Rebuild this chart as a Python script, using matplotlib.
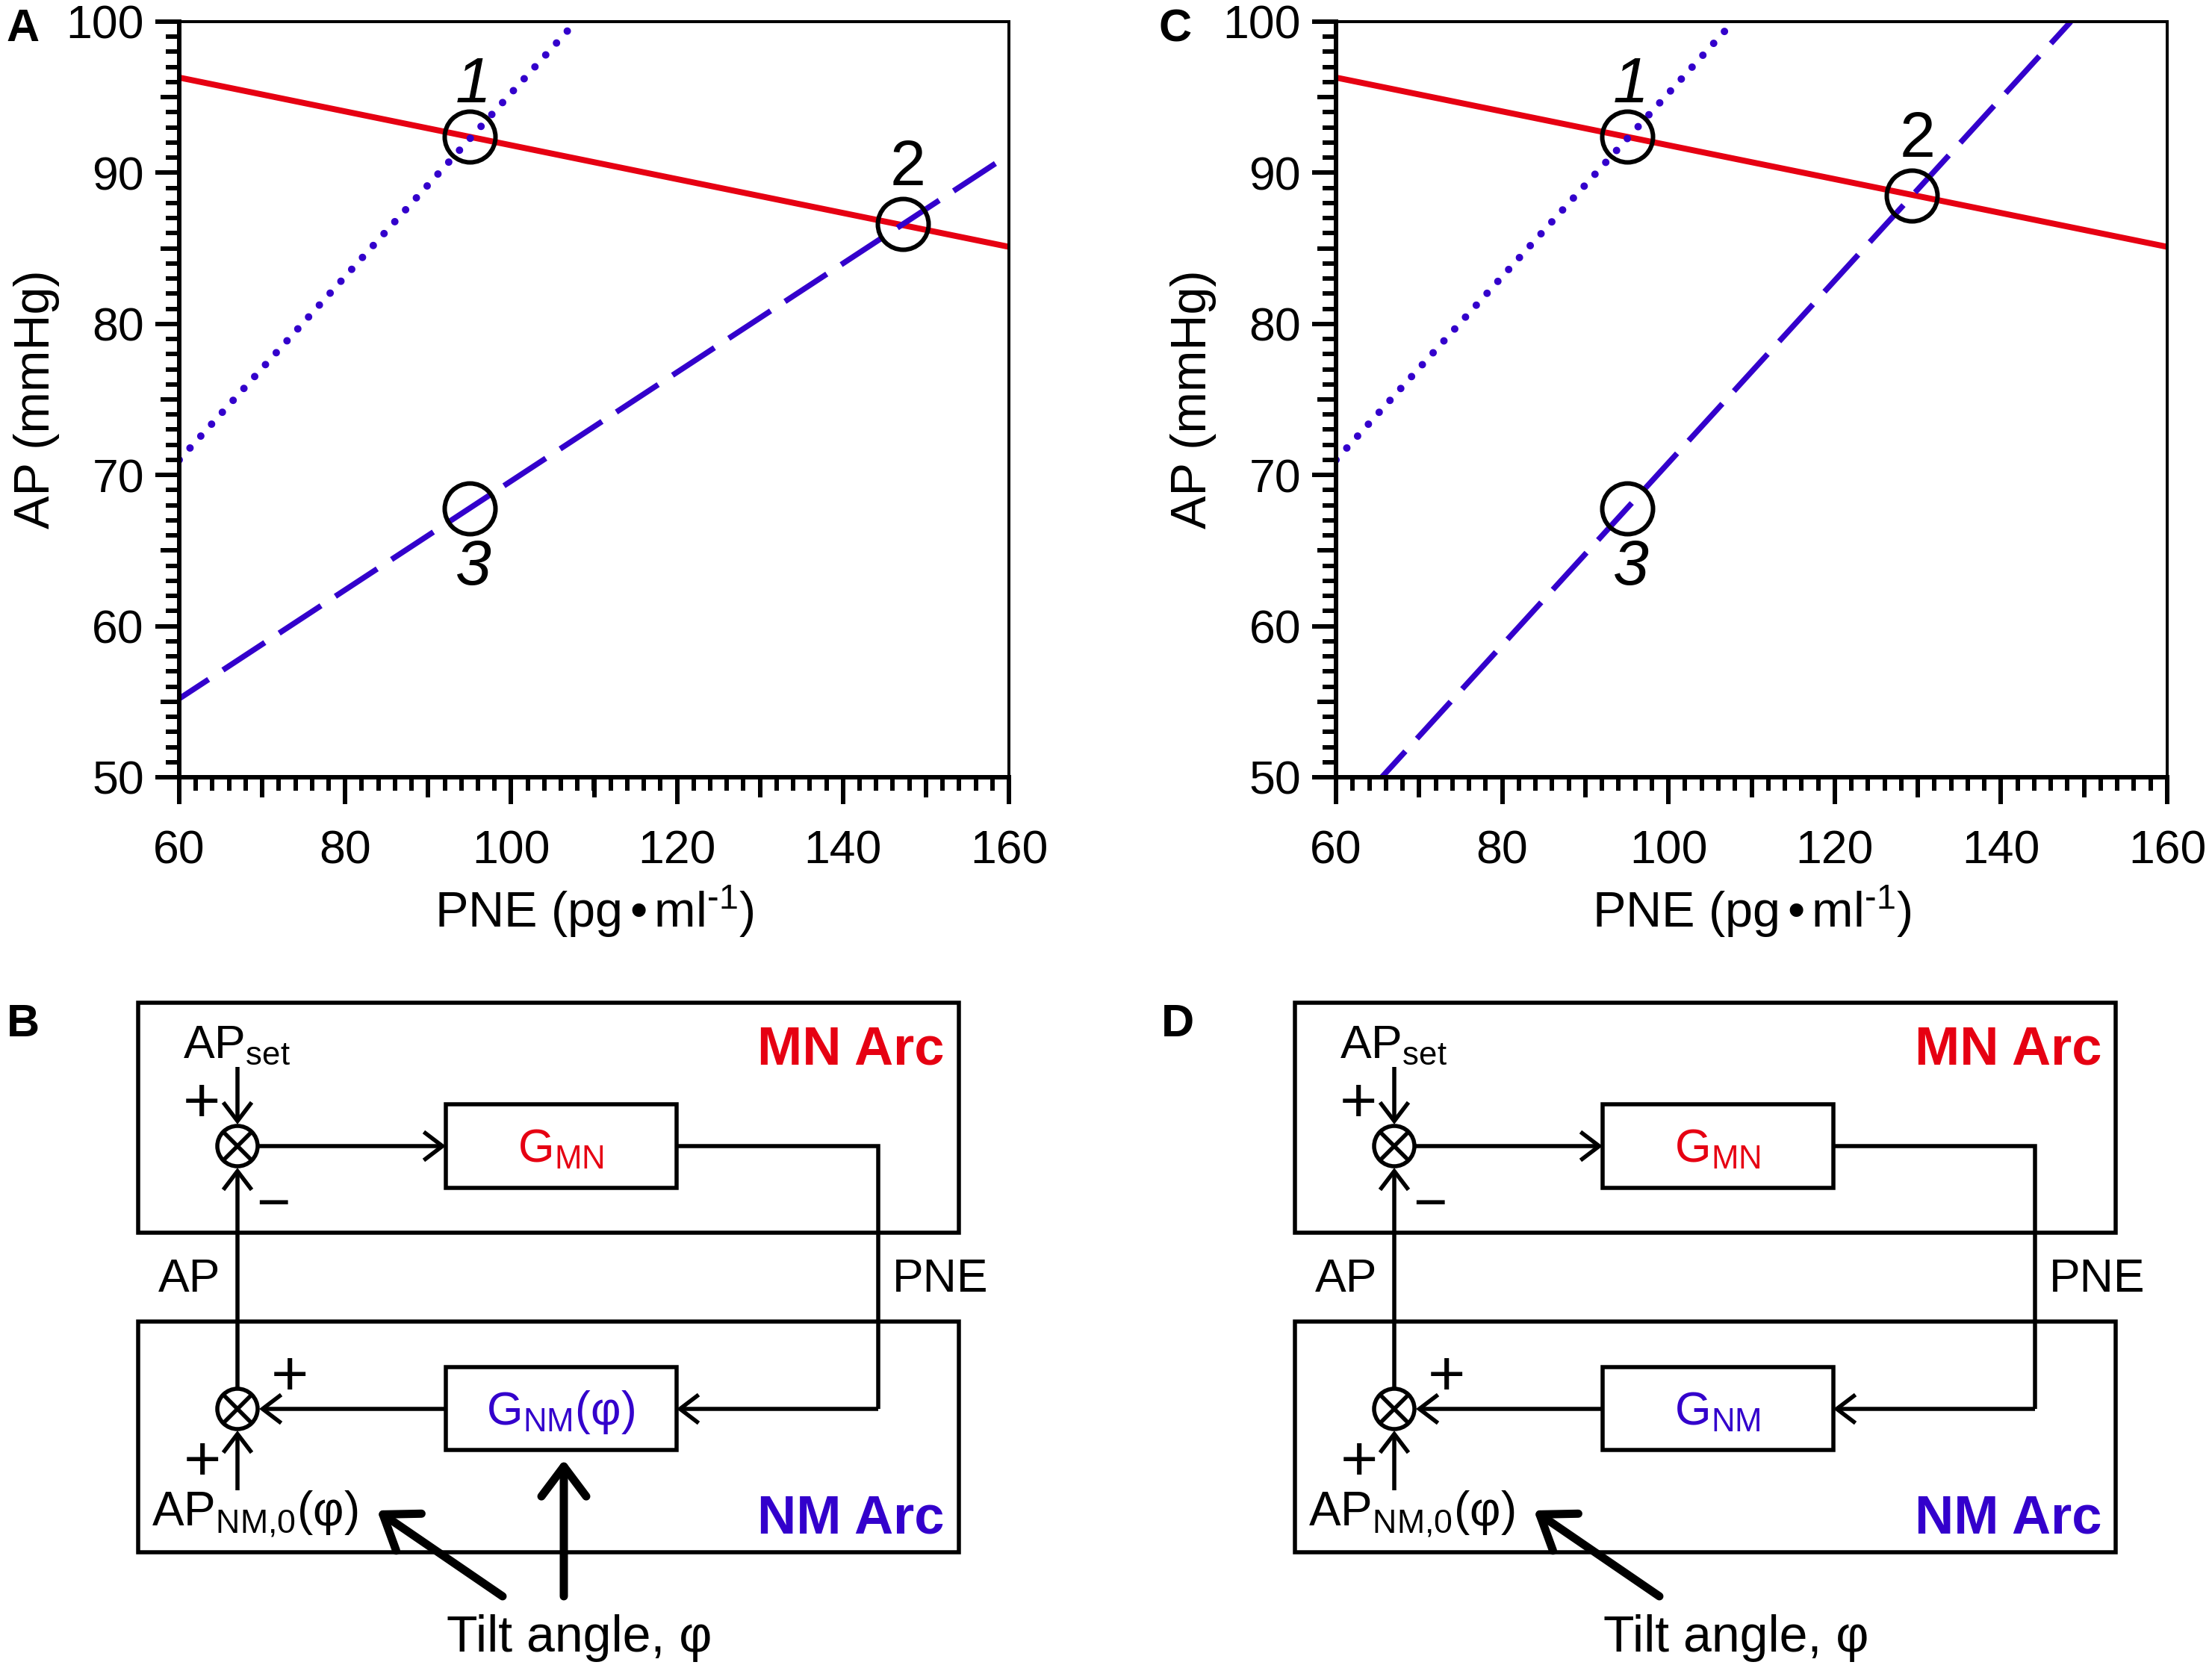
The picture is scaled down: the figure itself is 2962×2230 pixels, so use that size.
import numpy as np
import matplotlib
matplotlib.use('Agg')
import matplotlib.pyplot as plt
from matplotlib.patches import Rectangle, Circle, FancyArrowPatch
from matplotlib.ticker import MultipleLocator, FixedLocator

plt.rcParams['font.family'] = ['Liberation Sans', 'DejaVu Sans']
plt.rcParams['mathtext.fontset'] = 'custom'
plt.rcParams['mathtext.rm'] = 'Liberation Sans'
plt.rcParams['mathtext.it'] = 'Liberation Sans:italic'
plt.rcParams['mathtext.bf'] = 'Liberation Sans:bold'
plt.rcParams['lines.scale_dashes'] = False

RED = '#e60012'
BLUE = '#3300cc'

# ---------------- data ----------------
x_limits = [60, 160]
y_limits = [50, 100]
xticks = [60, 80, 100, 120, 140, 160]
yticks = [50, 60, 70, 80, 90, 100]
x_mid_ticks = [70, 90, 110, 130, 150]
y_mid_ticks = [55, 65, 75, 85, 95]

# MN arc (red, solid) - same in A and C
mn_pne = [60, 160]
mn_ap = [96.3, 85.1]
# NM arc at supine (blue, dotted) - same in A and C
nm0_pne = [60, 107.8]
nm0_ap = [71.0, 100.0]
# NM arc during tilt (blue, dashed)
nmA_pne = [60, 160]
nmA_ap = [55.2, 91.2]
nmC_pne = [65.5, 148.4]
nmC_ap = [50.0, 100.0]
# operating points
op_labels = ['1', '2', '3']
opA_pne = [95, 147.2, 95]
opA_ap = [92.4, 86.6, 67.8]
opC_pne = [95, 129.3, 95]
opC_ap = [92.4, 88.5, 67.8]

W, H, DPI = 2962, 2230, 100
fig = plt.figure(figsize=(W / DPI, H / DPI), dpi=DPI)


def px(v):
    return v * 72.0 / DPI


def make_axes(l, r, t, b):
    return fig.add_axes([l / W, 1 - b / H, (r - l) / W, (b - t) / H])


# overlay axes for schematic (pixel coordinates)
bax = fig.add_axes([0, 0, 1, 1])
bax.set_xlim(0, W)
bax.set_ylim(H, 0)
bax.axis('off')


def chart(ax, nm_pne, nm_ap, op_pne, op_ap):
    ax.plot(mn_pne, mn_ap, color=RED, lw=px(8), solid_capstyle='butt')
    ax.plot(nm0_pne, nm0_ap, color=BLUE, lw=px(10),
            linestyle=(0, (0.01, px(21.5))), dash_capstyle='round')
    ax.plot(nm_pne, nm_ap, color=BLUE, lw=px(7.5),
            linestyle=(px(20), (px(67), px(23))), dash_capstyle='butt')
    ax.plot(op_pne, op_ap, 'o', ms=px(68), mfc='none', mec='k', mew=px(6), zorder=5)
    offs = [(5, 46), (7, 52), (5, -102)]
    styles = ['italic', 'normal', 'italic']
    for lab, x, y, o, st in zip(op_labels, op_pne, op_ap, offs, styles):
        ax.annotate(lab, xy=(x, y), xytext=o, textcoords='offset pixels',
                    ha='center', va='baseline', fontsize=62, fontstyle=st)
    ax.set_xlim(*x_limits)
    ax.set_ylim(*y_limits)
    ax.xaxis.set_major_locator(FixedLocator(xticks))
    ax.yaxis.set_major_locator(FixedLocator(yticks))
    ax.xaxis.set_minor_locator(MultipleLocator(2))
    ax.yaxis.set_minor_locator(MultipleLocator(1))
    ax.tick_params(axis='x', which='major', direction='out', length=px(36),
                   width=px(6), pad=px(34), labelsize=45)
    ax.tick_params(axis='x', which='minor', direction='out', length=px(18), width=px(6))
    ax.tick_params(axis='y', which='major', direction='out', length=px(32),
                   width=px(6), pad=px(15), labelsize=45)
    ax.tick_params(axis='y', which='minor', direction='out', length=px(18), width=px(6))
    for s in ['left', 'bottom']:
        ax.spines[s].set_linewidth(px(6))
    for s in ['top', 'right']:
        ax.spines[s].set_linewidth(px(4))
    sx = ax.secondary_xaxis('bottom')
    sx.set_xticks(x_mid_ticks)
    sx.tick_params(axis='x', length=px(27), width=px(6), labelbottom=False)
    sx.spines['bottom'].set_visible(False)
    sy = ax.secondary_yaxis('left')
    sy.set_yticks(y_mid_ticks)
    sy.tick_params(axis='y', length=px(25), width=px(6), labelleft=False)
    sy.spines['left'].set_visible(False)
    ax.set_xlabel(r'PNE (pg$\,$•$\,$ml$^{\text{-1}}$)', fontsize=48)
    ax.xaxis.label.set_va('baseline')
    ax.xaxis.set_label_coords(0.5, (1041 - 1242) / 1012)
    ax.set_ylabel('AP (mmHg)', fontsize=48)
    ax.yaxis.label.set_va('baseline')
    ax.yaxis.set_label_coords((66 - 240) / 1111, 0.5)


axA = make_axes(240, 1351, 29, 1041)
chart(axA, nmA_pne, nmA_ap, opA_pne, opA_ap)
axC = make_axes(1789, 2902, 29, 1041)
chart(axC, nmC_pne, nmC_ap, opC_pne, opC_ap)

for lab, x, y in [('A', 8, 55), ('C', 1552, 55), ('B', 9, 1388), ('D', 1555, 1388)]:
    bax.text(x, y, lab, fontsize=44, fontweight='bold', ha='left', va='baseline')

LW = px(5.5)


def arrow(x0, y0, x1, y1, lw=LW, hl=25, hw=19, cap='butt'):
    a = FancyArrowPatch((x0, y0), (x1, y1),
                        arrowstyle=f'->,head_length={px(hl)},head_width={px(hw)}',
                        mutation_scale=1, lw=lw, color='k', shrinkA=0, shrinkB=0,
                        capstyle=cap, joinstyle='round' if cap == 'round' else 'miter')
    bax.add_patch(a)


def line(xs, ys, lw=LW):
    bax.plot(xs, ys, color='k', lw=lw, solid_capstyle='butt', solid_joinstyle='miter')


def junction(cx, cy, r=27):
    bax.add_patch(Circle((cx, cy), r, fill=False, lw=LW, ec='k'))
    d = r * 0.7071
    line([cx - d, cx + d], [cy - d, cy + d])
    line([cx - d, cx + d], [cy + d, cy - d])


def block(dx, gnm_label, vertical_arrow):
    for (x0, y0, x1, y1) in [(185, 1343, 1284, 1651), (185, 1770, 1284, 2079)]:
        bax.add_patch(Rectangle((x0 + dx, y0), x1 - x0, y1 - y0, fill=False, lw=LW, ec='k'))
    for (x0, y0, x1, y1) in [(597, 1479, 906, 1591), (597, 1831, 906, 1942)]:
        bax.add_patch(Rectangle((x0 + dx, y0), x1 - x0, y1 - y0, fill=False, lw=LW, ec='k'))
    jx = 318 + dx
    junction(jx, 1535)
    junction(jx, 1887)
    arrow(jx, 1429, jx, 1506)
    arrow(jx + 27, 1535, 597 + dx, 1535)
    line([906 + dx, 1176 + dx, 1176 + dx], [1535, 1535, 1887])
    arrow(1176 + dx, 1887, 906 + dx, 1887)
    arrow(597 + dx, 1887, jx + 29, 1887)
    arrow(jx, 1860, jx, 1564)
    arrow(jx, 1996, jx, 1916)
    # thick tilt arrows
    arrow(673 + dx, 2138, 505 + dx, 2023, lw=px(11), hl=42, hw=30, cap='round')
    if vertical_arrow:
        arrow(755 + dx, 2138, 755 + dx, 1955, lw=px(11), hl=40, hw=30, cap='round')
    # texts
    bax.text(245 + dx, 1417, r'AP$_{\mathrm{set}}$', fontsize=45, ha='left', va='baseline')
    bax.text(270 + dx, 1503, '+', fontsize=62, ha='center', va='baseline')
    bax.text(366 + dx, 1636, '\u2212', fontsize=56, ha='center', va='baseline')
    bax.text(388 + dx, 1869, '+', fontsize=62, ha='center', va='baseline')
    bax.text(271 + dx, 1983, '+', fontsize=62, ha='center', va='baseline')
    bax.text(254 + dx, 1730, 'AP', fontsize=45, ha='center', va='baseline')
    bax.text(1195 + dx, 1730, 'PNE', fontsize=45, ha='left', va='baseline')
    bax.text(1265 + dx, 1425, 'MN Arc', fontsize=52, fontweight='bold', color=RED,
             ha='right', va='baseline')
    bax.text(1265 + dx, 2053, 'NM Arc', fontsize=52, fontweight='bold', color=BLUE,
             ha='right', va='baseline')
    bax.text(751 + dx, 1556, r'G$_{\mathrm{MN}}$', fontsize=45, color=RED,
             ha='center', va='baseline')
    bax.text(751 + dx, 1908, gnm_label, fontsize=45, color=BLUE, ha='center', va='baseline')
    bax.text(203 + dx, 2042, r'AP$_{\mathrm{NM{,}0}}$(φ)', fontsize=46, ha='left', va='baseline')
    bax.text(598 + dx, 2212, 'Tilt angle, φ', fontsize=49, ha='left', va='baseline')


block(0, r'G$_{\mathrm{NM}}$(φ)', True)
block(1549, r'G$_{\mathrm{NM}}$', False)

fig.savefig('out.png', dpi=DPI)
